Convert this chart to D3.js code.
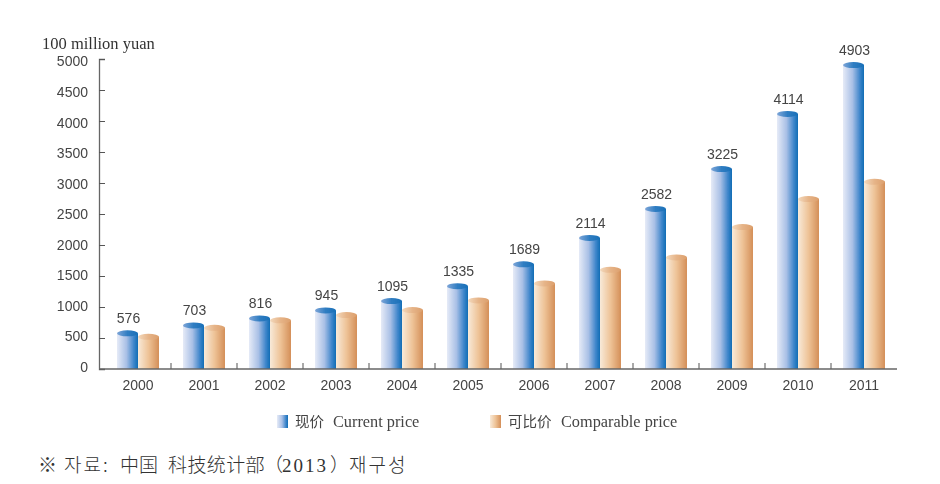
<!DOCTYPE html>
<html><head><meta charset="utf-8">
<script src="https://cdn.jsdelivr.net/npm/d3@7"></script>
<style>html,body{margin:0;padding:0;background:#fff}svg{display:block}</style>
</head><body><svg id="c" width="940" height="484"></svg>
<script>
const years = ["2000","2001","2002","2003","2004","2005","2006","2007","2008","2009","2010","2011"];
const currentPrice = [576,703,816,945,1095,1335,1689,2114,2582,3225,4114,4903];
const comparablePrice = [520,665,785,870,950,1105,1380,1600,1800,2290,2740,3020];
const yTicks = [0,500,1000,1500,2000,2500,3000,3500,4000,4500,5000];

const svg = d3.select("#c");
const x = d3.scaleBand().domain(years).range([105,897]);
const y = d3.scaleLinear().domain([0,5000]).range([369,59]);
const barW = 21;
const defs = svg.append("defs");
function grad(id, stops){
  const g = defs.append("linearGradient").attr("id",id);
  stops.forEach(s=>g.append("stop").attr("offset",s[0]).attr("stop-color",s[1]));
}
grad("blue",[[0,"#e6ebf7"],[.45,"#a9c0e6"],[.8,"#3f86cb"],[1,"#0f6db5"]]);
grad("orange",[[0,"#f8ead9"],[.5,"#eec397"],[1,"#d48f58"]]);
grad("blueTop",[[0,"#7fa6d8"],[.5,"#2f7dc2"],[1,"#1a70b8"]]);
grad("orangeTop",[[0,"#f3d9bd"],[.5,"#e6b488"],[1,"#dc9f6c"]]);
const blur = defs.append("filter").attr("id","soft").attr("x","-5%").attr("y","-5%").attr("width","110%").attr("height","110%");
blur.append("feGaussianBlur").attr("stdDeviation",0.4);

const root = svg.append("g").attr("filter","url(#soft)");

function series(vals, offset, fill, topFill){
  const g = root.append("g").selectAll("g").data(years).join("g");
  g.append("path").attr("fill",`url(#${fill})`).attr("d",(d,i)=>{
    const l=x(d)+x.bandwidth()/2+offset, t=y(vals[i]), b=y(0);
    return `M${l},${t}L${l+barW},${t}L${l+barW},${b}L${l},${b}Z`;
  });
  g.append("ellipse").attr("cx",(d)=>x(d)+x.bandwidth()/2+offset+barW/2).attr("cy",(d,i)=>y(vals[i]))
   .attr("rx",barW/2).attr("ry",3).attr("fill",`url(#${topFill})`);
}
series(comparablePrice,0,"orange","orangeTop");
series(currentPrice,-barW,"blue","blueTop");

// axes
const yAxis = root.append("g").attr("transform","translate(99,0)")
  .call(d3.axisLeft(y).tickValues(yTicks).tickSize(-6).tickFormat(d3.format("d")).tickPadding(11));
const xAxis = root.append("g").attr("transform","translate(0,369)")
  .call(d3.axisBottom(x).tickSize(0).tickPadding(11));
root.append("g").attr("transform","translate(0,369)").selectAll("line")
  .data(years.slice(1)).join("line")
  .attr("x1",d=>x(d)).attr("x2",d=>x(d)).attr("y1",0).attr("y2",-6)
  .attr("stroke","#555");
root.append("line").attr("x1",99).attr("x2",897).attr("y1",369).attr("y2",369).attr("stroke","#666").attr("stroke-width",1.3);
[yAxis,xAxis].forEach(a=>{
  a.selectAll("path.domain").attr("stroke","#666").attr("stroke-width",1.3);
  a.selectAll("line").attr("stroke","#555");
  a.selectAll("text").attr("font-family","'Liberation Sans',Arial,sans-serif").attr("font-size",14).attr("fill","#444");
});
xAxis.select("path.domain").remove();
xAxis.selectAll("text").attr("dy","0.72em");
yAxis.selectAll("text").attr("dy","0.32em").attr("y",d=>-2+d/5000*4.5);

// value labels
root.append("g").selectAll("text").data(years).join("text")
  .attr("x",d=>x(d)+x.bandwidth()/2-barW/2+1).attr("y",(d,i)=>y(currentPrice[i])-10)
  .attr("text-anchor","middle").attr("font-family","'Liberation Sans',Arial,sans-serif")
  .attr("font-size",14).attr("fill","#444").text((d,i)=>currentPrice[i]);

// unit
root.append("text").attr("x",42).attr("y",49).attr("font-family","'Liberation Serif',serif")
  .attr("font-size",16.5).attr("fill","#333").text("100 million yuan");

// legend
const legend = [
 {sw:277,tx:295,ex:333,fill:"blue",cn:"现价",en:"Current price"},
 {sw:490,tx:508,ex:561,fill:"orange",cn:"可比价",en:"Comparable price"}
];
const lg = root.append("g").selectAll("g").data(legend).join("g");
lg.append("rect").attr("x",d=>d.sw).attr("y",415).attr("width",11).attr("height",13).attr("fill",d=>`url(#${d.fill})`);
const lt = lg.append("text").attr("y",427).attr("fill","#444").attr("font-size",16.3)
  .attr("font-family","'Liberation Serif',serif");
lt.append("tspan").attr("x",d=>d.tx).attr("font-family","'Noto Sans CJK SC',sans-serif").attr("font-size",14.5).text(d=>d.cn);
lt.append("tspan").attr("x",d=>d.ex).text(d=>d.en);

// source
const sourceParts = [
 {x:38,t:"※"},{x:64,t:"자료:",ls:2},{x:120,t:"中国"},{x:168,t:"科技统计部",ls:.4},
 {x:264,t:"（"},{x:282,t:"2013",serif:true,ls:2},{x:330,t:"）"},{x:349,t:"재구성",ls:2}
];
const src = svg.append("text").attr("y",472).attr("fill","#333").attr("font-size",19)
  .attr("font-family","'Noto Sans CJK KR',sans-serif").attr("font-weight",300);
src.selectAll("tspan").data(sourceParts).join("tspan")
  .attr("x",d=>d.x).attr("font-family",d=>d.serif?"'Liberation Serif',serif":null)
  .attr("letter-spacing",d=>d.ls||0)
  .text(d=>d.t);
</script></body></html>
